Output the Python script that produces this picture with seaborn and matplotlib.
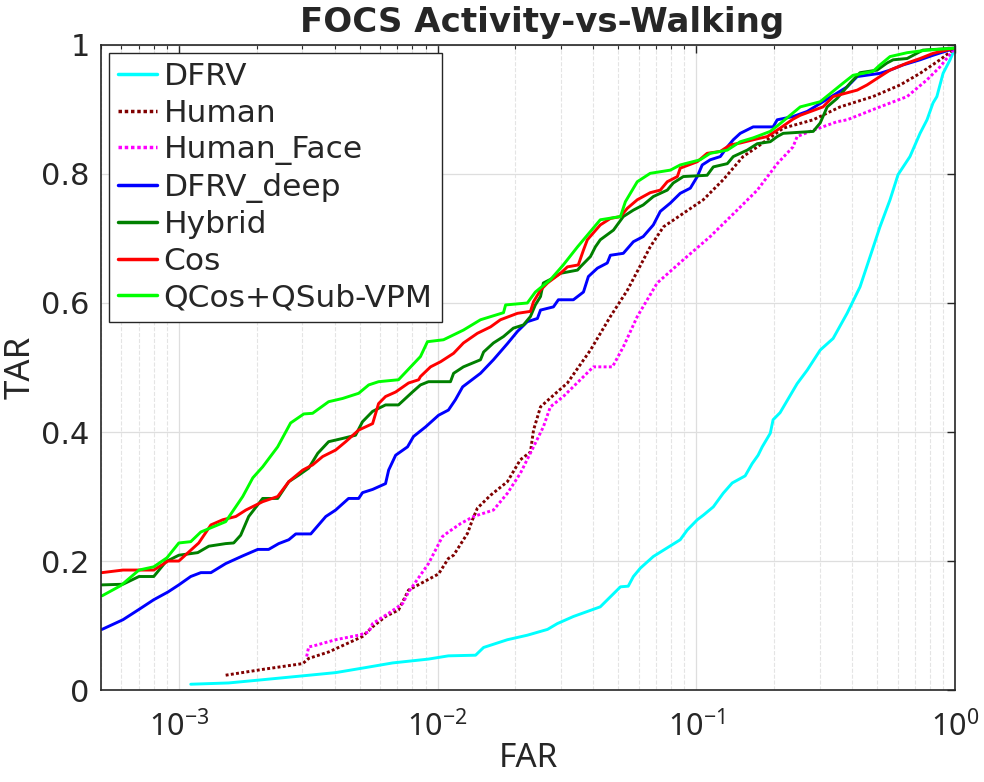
import numpy as np
import pandas as pd
import seaborn as sns
import matplotlib
matplotlib.use("Agg")
import matplotlib.pyplot as plt
from matplotlib.ticker import LogLocator, FuncFormatter, NullFormatter, FixedLocator

methods = ["DFRV", "Human", "Human_Face", "DFRV_deep", "Hybrid", "Cos", "QCos+QSub-VPM"]
colors = ["#00ffff", "#800000", "#ff00ff", "#0000ff", "#008000", "#ff0000", "#00ff00"]
dotted = ["Human", "Human_Face"]

# curves: log10(FAR) and TAR
dfrv_logfar = [-2.954, -2.807, -2.676, -2.521, -2.394, -2.290, -2.174, -2.035, -1.958, -1.853,
               -1.822, -1.730, -1.653, -1.575, -1.537, -1.475, -1.371, -1.293, -1.263, -1.243,
               -1.216, -1.166, -1.062, -1.035, -0.996, -0.973, -0.934, -0.896, -0.861, -0.811,
               -0.784, -0.761, -0.745, -0.714, -0.703, -0.676, -0.610, -0.571, -0.521, -0.471,
               -0.417, -0.367, -0.328, -0.290, -0.251, -0.220, -0.174, -0.135, -0.108, -0.085,
               -0.070, -0.046, -0.019, 0.0]
dfrv_tar = [0.009, 0.011, 0.016, 0.022, 0.027, 0.034, 0.042, 0.048, 0.053, 0.054,
            0.066, 0.078, 0.085, 0.094, 0.103, 0.114, 0.129, 0.160, 0.161, 0.176,
            0.189, 0.207, 0.233, 0.248, 0.264, 0.271, 0.284, 0.305, 0.321, 0.332,
            0.351, 0.364, 0.377, 0.398, 0.419, 0.430, 0.475, 0.496, 0.527, 0.545,
            0.584, 0.625, 0.672, 0.718, 0.760, 0.799, 0.827, 0.863, 0.884, 0.910,
            0.920, 0.956, 0.977, 0.995]

human_logfar = [-2.819, -2.676, -2.521, -2.498, -2.421, -2.290, -2.251, -2.201, -2.151, -2.112,
                -1.996, -1.958, -1.938, -1.892, -1.884, -1.865, -1.846, -1.795, -1.730, -1.680,
                -1.641, -1.629, -1.602, -1.552, -1.498, -1.409, -1.332, -1.266, -1.178, -1.127,
                -1.050, -0.973, -0.896, -0.819, -0.764, -0.664, -0.548, -0.444, -0.317, -0.212,
                -0.135, -0.058, 0.0]
human_tar = [0.023, 0.032, 0.041, 0.049, 0.059, 0.083, 0.098, 0.114, 0.124, 0.155,
             0.180, 0.204, 0.209, 0.238, 0.243, 0.264, 0.282, 0.302, 0.323, 0.357,
             0.369, 0.403, 0.439, 0.457, 0.476, 0.527, 0.579, 0.620, 0.687, 0.718,
             0.739, 0.760, 0.791, 0.827, 0.842, 0.871, 0.884, 0.904, 0.920, 0.938,
             0.956, 0.977, 0.995]

face_logfar = [-2.506, -2.498, -2.483, -2.394, -2.305, -2.266, -2.251, -2.189, -2.135, -2.112,
               -2.035, -1.981, -1.958, -1.911, -1.861, -1.784, -1.730, -1.680, -1.629, -1.591,
               -1.564, -1.514, -1.448, -1.398, -1.324, -1.282, -1.228, -1.151, -1.050, -0.946,
               -0.842, -0.764, -0.687, -0.626, -0.610, -0.560, -0.456, -0.417, -0.290, -0.185,
               -0.108, -0.058, 0.0]
face_tar = [0.052, 0.067, 0.068, 0.078, 0.085, 0.090, 0.103, 0.119, 0.134, 0.152,
            0.196, 0.238, 0.245, 0.258, 0.269, 0.279, 0.305, 0.336, 0.377, 0.408,
            0.439, 0.455, 0.481, 0.501, 0.501, 0.532, 0.579, 0.631, 0.667, 0.703,
            0.744, 0.775, 0.816, 0.842, 0.858, 0.866, 0.881, 0.884, 0.904, 0.920,
            0.946, 0.966, 0.995]

deep_logfar = [-3.297, -3.216, -3.154, -3.097, -3.042, -3.000, -2.954, -2.915, -2.876, -2.819,
               -2.753, -2.695, -2.653, -2.614, -2.575, -2.548, -2.490, -2.432, -2.394, -2.344,
               -2.305, -2.290, -2.251, -2.201, -2.189, -2.162, -2.116, -2.093, -2.046, -1.996,
               -1.958, -1.931, -1.903, -1.834, -1.784, -1.730, -1.691, -1.653, -1.614, -1.602,
               -1.552, -1.533, -1.475, -1.436, -1.417, -1.382, -1.344, -1.332, -1.282, -1.243,
               -1.205, -1.166, -1.139, -1.100, -1.062, -1.023, -0.996, -0.977, -0.946, -0.907,
               -0.880, -0.857, -0.830, -0.780, -0.703, -0.687, -0.626, -0.571, -0.510, -0.417,
               -0.378, -0.290, -0.251, -0.201, -0.135, -0.085, 0.0]
deep_tar = [0.094, 0.109, 0.125, 0.140, 0.152, 0.163, 0.176, 0.182, 0.182, 0.196,
            0.208, 0.218, 0.218, 0.227, 0.233, 0.242, 0.242, 0.269, 0.279, 0.297,
            0.297, 0.306, 0.311, 0.320, 0.341, 0.364, 0.377, 0.393, 0.408, 0.426,
            0.434, 0.450, 0.470, 0.491, 0.512, 0.537, 0.556, 0.571, 0.576, 0.589,
            0.594, 0.605, 0.605, 0.617, 0.641, 0.654, 0.662, 0.674, 0.677, 0.695,
            0.703, 0.721, 0.742, 0.755, 0.770, 0.778, 0.796, 0.814, 0.822, 0.827,
            0.842, 0.853, 0.863, 0.873, 0.873, 0.884, 0.889, 0.897, 0.912, 0.935,
            0.951, 0.956, 0.961, 0.969, 0.977, 0.984, 0.995]

hybrid_logfar = [-3.297, -3.216, -3.154, -3.097, -3.050, -3.000, -2.927, -2.884, -2.819, -2.788,
                 -2.761, -2.730, -2.676, -2.618, -2.575, -2.537, -2.498, -2.463, -2.421, -2.367,
                 -2.317, -2.290, -2.251, -2.201, -2.151, -2.097, -2.066, -2.035, -1.950, -1.938,
                 -1.900, -1.834, -1.822, -1.784, -1.745, -1.707, -1.668, -1.641, -1.622, -1.602,
                 -1.591, -1.552, -1.525, -1.459, -1.448, -1.409, -1.390, -1.371, -1.320, -1.282,
                 -1.243, -1.205, -1.166, -1.112, -1.089, -1.050, -0.958, -0.934, -0.880, -0.857,
                 -0.803, -0.764, -0.714, -0.687, -0.664, -0.548, -0.521, -0.494, -0.456, -0.432,
                 -0.405, -0.367, -0.301, -0.263, -0.239, -0.185, -0.124, 0.0]
hybrid_tar = [0.163, 0.164, 0.176, 0.176, 0.199, 0.209, 0.213, 0.223, 0.227, 0.228,
              0.240, 0.269, 0.297, 0.297, 0.323, 0.333, 0.344, 0.367, 0.385, 0.390,
              0.395, 0.416, 0.432, 0.442, 0.442, 0.462, 0.473, 0.478, 0.478, 0.491,
              0.501, 0.512, 0.524, 0.538, 0.548, 0.561, 0.566, 0.579, 0.597, 0.610,
              0.631, 0.639, 0.646, 0.651, 0.656, 0.672, 0.687, 0.698, 0.713, 0.734,
              0.744, 0.752, 0.765, 0.775, 0.786, 0.796, 0.798, 0.811, 0.816, 0.827,
              0.837, 0.847, 0.850, 0.858, 0.863, 0.866, 0.879, 0.904, 0.917, 0.928,
              0.941, 0.957, 0.961, 0.972, 0.977, 0.979, 0.992, 0.995]

cos_logfar = [-3.297, -3.216, -3.097, -3.042, -3.000, -2.923, -2.876, -2.830, -2.780, -2.741,
              -2.676, -2.618, -2.575, -2.521, -2.483, -2.444, -2.394, -2.355, -2.305, -2.251,
              -2.228, -2.201, -2.162, -2.112, -2.073, -2.066, -2.027, -1.988, -1.938, -1.900,
              -1.846, -1.795, -1.757, -1.691, -1.641, -1.629, -1.602, -1.575, -1.525, -1.498,
              -1.456, -1.436, -1.421, -1.371, -1.332, -1.293, -1.266, -1.228, -1.178, -1.139,
              -1.112, -1.073, -1.062, -0.996, -0.958, -0.907, -0.869, -0.830, -0.780, -0.726,
              -0.676, -0.626, -0.598, -0.510, -0.471, -0.378, -0.340, -0.290, -0.251, -0.185,
              -0.135, -0.085, 0.0]
cos_tar = [0.182, 0.186, 0.186, 0.200, 0.200, 0.228, 0.256, 0.264, 0.269, 0.279,
           0.292, 0.300, 0.323, 0.341, 0.349, 0.362, 0.372, 0.385, 0.403, 0.413,
           0.444, 0.455, 0.462, 0.476, 0.481, 0.486, 0.501, 0.509, 0.522, 0.538,
           0.553, 0.563, 0.574, 0.584, 0.587, 0.602, 0.620, 0.631, 0.646, 0.656,
           0.659, 0.682, 0.698, 0.721, 0.731, 0.734, 0.747, 0.760, 0.771, 0.775,
           0.788, 0.796, 0.809, 0.819, 0.832, 0.835, 0.845, 0.848, 0.853, 0.858,
           0.871, 0.885, 0.891, 0.904, 0.920, 0.930, 0.938, 0.951, 0.961, 0.972,
           0.979, 0.987, 0.995]

qcos_logfar = [-3.297, -3.224, -3.154, -3.097, -3.046, -3.000, -2.954, -2.915, -2.819, -2.753,
               -2.714, -2.676, -2.618, -2.568, -2.517, -2.483, -2.421, -2.367, -2.305, -2.266,
               -2.228, -2.151, -2.066, -2.039, -1.977, -1.900, -1.834, -1.745, -1.737, -1.653,
               -1.622, -1.564, -1.514, -1.459, -1.436, -1.371, -1.293, -1.274, -1.228, -1.178,
               -1.100, -1.062, -0.985, -0.946, -0.880, -0.830, -0.780, -0.714, -0.676, -0.598,
               -0.521, -0.432, -0.394, -0.317, -0.290, -0.251, -0.185, -0.108, 0.0]
qcos_tar = [0.146, 0.162, 0.186, 0.191, 0.205, 0.228, 0.230, 0.245, 0.261, 0.300,
            0.329, 0.346, 0.377, 0.414, 0.428, 0.429, 0.447, 0.452, 0.460, 0.473,
            0.478, 0.481, 0.517, 0.540, 0.543, 0.558, 0.574, 0.585, 0.597, 0.600,
            0.617, 0.636, 0.659, 0.687, 0.698, 0.729, 0.734, 0.757, 0.788, 0.801,
            0.806, 0.814, 0.822, 0.832, 0.837, 0.850, 0.856, 0.866, 0.878, 0.904,
            0.912, 0.941, 0.953, 0.959, 0.969, 0.982, 0.988, 0.992, 0.995]

curves = {
    "DFRV": (dfrv_logfar, dfrv_tar),
    "Human": (human_logfar, human_tar),
    "Human_Face": (face_logfar, face_tar),
    "DFRV_deep": (deep_logfar, deep_tar),
    "Hybrid": (hybrid_logfar, hybrid_tar),
    "Cos": (cos_logfar, cos_tar),
    "QCos+QSub-VPM": (qcos_logfar, qcos_tar),
}

frames = []
for name in methods:
    lf, tar = curves[name]
    frames.append(pd.DataFrame({"FAR": 10.0 ** np.array(lf), "TAR": tar, "method": name}))
df = pd.concat(frames, ignore_index=True)

sns.set_theme(style="white")
plt.rcParams["font.family"] = ["DejaVu Sans"]
plt.rcParams["mathtext.fontset"] = "custom"
plt.rcParams["mathtext.rm"] = "Noto Sans"
plt.rcParams["mathtext.it"] = "Noto Sans"

fig = plt.figure(figsize=(9.84, 7.82), dpi=100)
ax = fig.add_axes([0.1026, 0.1176, 0.8679, 0.8249])

dashes = {m: ((1, 0.8) if m in dotted else "") for m in methods}
sns.lineplot(data=df, x="FAR", y="TAR", hue="method", style="method",
             hue_order=methods, style_order=methods,
             palette=dict(zip(methods, colors)), dashes=dashes,
             estimator=None, sort=False, linewidth=2.1, ax=ax)

ax.set_xscale("log")
ax.set_xlim(5e-4, 1)
ax.set_ylim(0, 1)

ax.xaxis.set_major_locator(FixedLocator([1e-3, 1e-2, 1e-1, 1]))
ax.xaxis.set_minor_locator(LogLocator(base=10, subs=np.arange(2, 10), numticks=20))
ax.xaxis.set_minor_formatter(NullFormatter())
ax.xaxis.set_major_formatter(FuncFormatter(lambda v, _: r"$10^{%d}$" % round(np.log10(v))))
ax.set_yticks([0, 0.2, 0.4, 0.6, 0.8, 1])
ax.yaxis.set_major_formatter(FuncFormatter(lambda v, _: f"{v:g}"))

ax.grid(True, which="major", color="#dedede", linewidth=0.9)
ax.grid(True, which="minor", axis="x", color="#e4e4e4", linestyle="--", linewidth=0.8)
ax.set_axisbelow(True)

ax.tick_params(which="both", direction="in", top=True, right=True, colors="#262626",
               labelsize=22)
ax.tick_params(which="major", length=6, width=1)
ax.tick_params(which="minor", length=3, width=0.8)
ax.tick_params(axis="x", pad=14)
ax.tick_params(axis="y", pad=8)
for s in ax.spines.values():
    s.set_color("#262626")
    s.set_linewidth(1.2)

ax.set_xlabel("FAR", fontsize=24, family="Noto Sans", color="#262626", labelpad=0)
ax.set_ylabel("TAR", fontsize=25, family="Noto Sans", color="#262626", labelpad=3)
ax.set_title("FOCS Activity-vs-Walking", fontsize=24.5, fontweight="bold", pad=9, x=0.517)

handles, labels = ax.get_legend_handles_labels()
leg = ax.legend(handles, labels, loc="upper left", fontsize=22.5, frameon=True, fancybox=False,
                edgecolor="#262626", framealpha=1, borderaxespad=0.25, borderpad=0.3,
                labelspacing=0.24, handlelength=1.25, handletextpad=0.2)
leg.get_frame().set_linewidth(1.0)
for line in leg.get_lines():
    line.set_linewidth(2.5)

fig.savefig("out.png", dpi=100)
